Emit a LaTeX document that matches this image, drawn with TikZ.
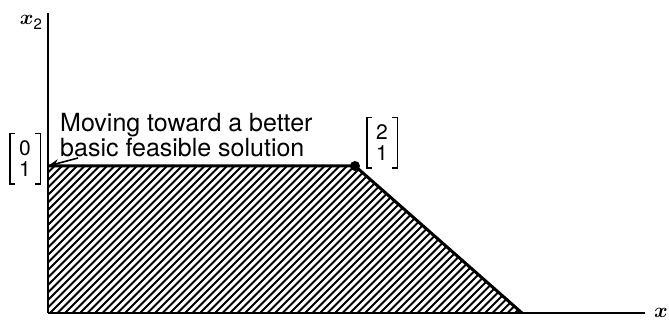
\documentclass[tikz,border=0pt]{standalone}
\usepackage{fontspec}
\setmainfont{TeX Gyre Heros}
\usetikzlibrary{arrows.meta}
\tikzset{
  axisline/.style={line width=2.4pt},
  edgeline/.style={line width=3pt, line join=round},
  hatchline/.style={line width=1.8pt},
  lbl/.style={font=\fontsize{25}{25}\selectfont, align=left, inner sep=0pt},
  vec/.style={font=\fontsize{21}{21}\selectfont, align=center, minimum width=30pt, minimum height=50pt, inner sep=0pt},
  brk/.style={line width=1.4pt},
  axlbl/.style={font=\fontsize{22}{22}\selectfont, inner sep=0pt},
  dot/.style={circle, fill=black, minimum size=10pt, inner sep=0pt},
  pointer/.style={line width=1.6pt, -{Stealth[length=11pt,width=8pt]}},
}
\begin{document}
\begin{tikzpicture}[x=1pt,y=1pt]
\useasboundingbox (0,0) rectangle (669,323);
% key points
\coordinate (O) at (48,10);
\coordinate (A) at (48,157);
\coordinate (C) at (355,157);
\coordinate (D) at (522,10);
\coordinate (Ytop) at (48,310);
\coordinate (Xend) at (645,10);
\coordinate (tail) at (78,165);
% hatching
\begin{scope}
  \clip (O) -- (A) -- (C) -- (D) -- cycle;
  \foreach \i in {-200,-192.5,...,540} \draw[hatchline] (\i,0) -- ++(220,220);
\end{scope}
% axes
\draw[axisline] (O) -- (Ytop);
\draw[axisline] (O) -- (Xend);
% feasible region boundary
\draw[edgeline] (A) -- (C) -- (D);
\node[dot] (vC) at (C) {};
% axis labels
\node[axlbl] (x2) at (31,301) {{\boldmath$x$}\raisebox{-5pt}{\fontsize{15}{15}\selectfont 2}};
\node[axlbl] (x1) at (661,10) {{\boldmath$x$}};
% vectors
\node[vec] (v01) at (25,164) {0\\1};
\node[vec] (v21) at (382,180) {2\\1};
\foreach \n in {v01,v21}{
  \draw[brk] ([xshift=5pt]\n.north west) -- (\n.north west) -- (\n.south west) -- ([xshift=5pt]\n.south west);
  \draw[brk] ([xshift=-5pt]\n.north east) -- (\n.north east) -- (\n.south east) -- ([xshift=-5pt]\n.south east);
}
% label
\node[lbl, anchor=north west] (txt) at (60,210) {Moving toward a better\\basic feasible solution};
\draw[pointer] (tail) -- (A);
\end{tikzpicture}
\end{document}
